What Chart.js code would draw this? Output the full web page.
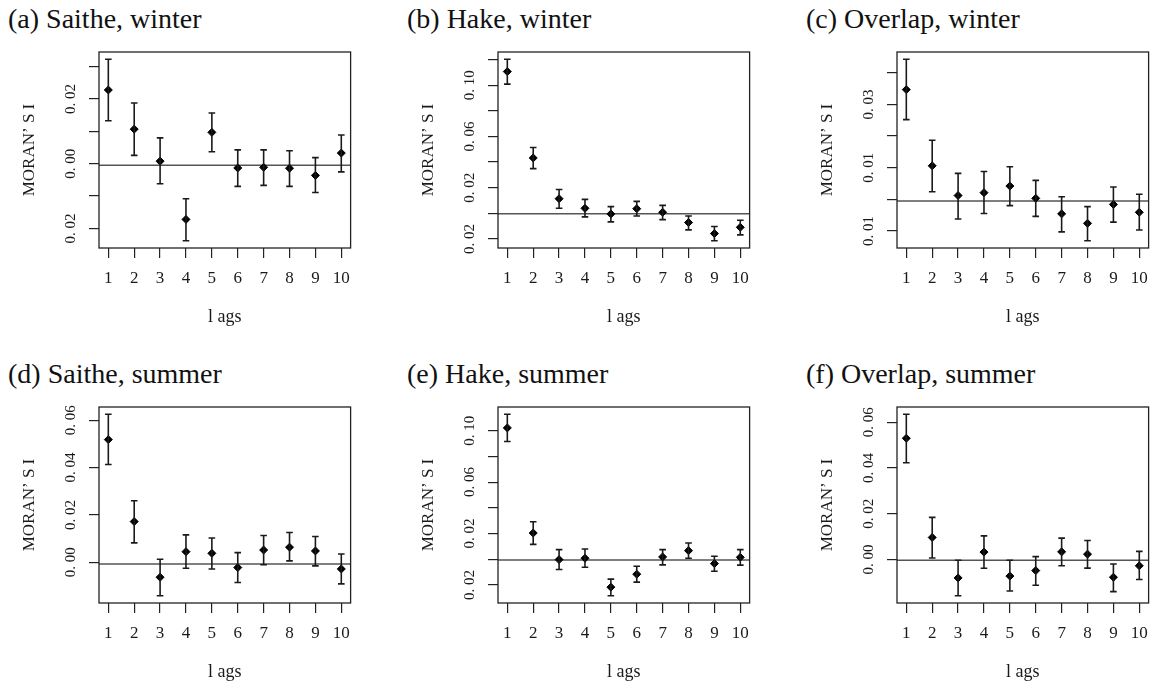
<!DOCTYPE html>
<html>
<head>
<meta charset="utf-8">
<script src="https://cdn.jsdelivr.net/npm/chart.js@4"></script>
<style>
  html, body { margin: 0; padding: 0; background: #fff; overflow: hidden; }
  body { width: 1158px; height: 686px; position: relative; }
  .panel-title { position: absolute; font-family: "Liberation Serif", serif; font-size: 28px; line-height: 28px; color: #111; white-space: nowrap; }
  canvas { position: absolute; }
</style>
</head>
<body>
<script>
// lags on the x axis
const lags = [1, 2, 3, 4, 5, 6, 7, 8, 9, 10];

// (a) saithe, winter
const saitheWinterI  = [0.0228, 0.0107, 0.0008, -0.0172, 0.0097, -0.0013, -0.0011, -0.0014, -0.0036, 0.0033];
const saitheWinterLo = [0.0133, 0.0026, -0.0062, -0.0238, 0.0037, -0.0070, -0.0067, -0.0070, -0.0089, -0.0025];
const saitheWinterHi = [0.0323, 0.0188, 0.0080, -0.0108, 0.0157, 0.0043, 0.0043, 0.0040, 0.0019, 0.0089];

// (b) hake, winter
const hakeWinterI  = [0.1106, 0.0432, 0.0114, 0.0039, -0.0005, 0.0036, 0.0008, -0.0072, -0.0158, -0.0109];
const hakeWinterLo = [0.1008, 0.0349, 0.0039, -0.0028, -0.0067, -0.0021, -0.0049, -0.0129, -0.0214, -0.0168];
const hakeWinterHi = [0.1202, 0.0514, 0.0186, 0.0109, 0.0052, 0.0093, 0.0062, -0.0021, -0.0103, -0.0054];

// (c) overlap, winter
const overlapWinterI  = [0.0347, 0.0106, 0.0012, 0.0021, 0.0042, 0.0003, -0.0046, -0.0076, -0.0016, -0.0041];
const overlapWinterLo = [0.0252, 0.0024, -0.0062, -0.0045, -0.0020, -0.0054, -0.0103, -0.0131, -0.0072, -0.0097];
const overlapWinterHi = [0.0443, 0.0187, 0.0082, 0.0088, 0.0103, 0.0060, 0.0008, -0.0023, 0.0039, 0.0016];

// (d) saithe, summer
const saitheSummerI  = [0.0518, 0.0172, -0.0063, 0.0045, 0.0038, -0.0022, 0.0052, 0.0064, 0.0048, -0.0028];
const saitheSummerLo = [0.0413, 0.0082, -0.0141, -0.0025, -0.0028, -0.0085, -0.0010, 0.0006, -0.0015, -0.0091];
const saitheSummerHi = [0.0625, 0.0260, 0.0013, 0.0116, 0.0103, 0.0041, 0.0113, 0.0126, 0.0109, 0.0035];

// (e) hake, summer
const hakeSummerI  = [0.1022, 0.0204, -0.0003, 0.0008, -0.0217, -0.0116, 0.0018, 0.0067, -0.0034, 0.0015];
const hakeSummerLo = [0.0916, 0.0116, -0.0080, -0.0062, -0.0284, -0.0178, -0.0044, 0.0008, -0.0093, -0.0046];
const hakeSummerHi = [0.1128, 0.0292, 0.0075, 0.0080, -0.0155, -0.0054, 0.0075, 0.0126, 0.0023, 0.0075];

// (f) overlap, summer
const overlapSummerI  = [0.0530, 0.0096, -0.0081, 0.0032, -0.0073, -0.0049, 0.0033, 0.0023, -0.0078, -0.0028];
const overlapSummerLo = [0.0423, 0.0006, -0.0159, -0.0039, -0.0138, -0.0113, -0.0028, -0.0038, -0.0141, -0.0088];
const overlapSummerHi = [0.0635, 0.0184, -0.0004, 0.0103, -0.0004, 0.0012, 0.0093, 0.0083, -0.0020, 0.0035];

// expected value lines
const expectedI = [-0.0005, -0.0003, -0.0005, -0.0007, -0.0005, -0.0004];

// y tick values and the labels as printed
const ticksSaitheWinter  = [-0.02, -0.01, 0.00, 0.01, 0.02, 0.03];
const labelsSaitheWinter = ["0. 02", "", "0. 00", "", "0. 02", ""];
const ticksHake  = [-0.02, 0.00, 0.02, 0.04, 0.06, 0.08, 0.10, 0.12];
const labelsHake = ["0. 02", "", "0. 02", "", "0. 06", "", "0. 10", ""];
const ticksOverlapWinter  = [-0.01, 0.00, 0.01, 0.02, 0.03, 0.04];
const labelsOverlapWinter = ["0. 01", "", "0. 01", "", "0. 03", ""];
const ticksSummer  = [0.00, 0.02, 0.04, 0.06];
const labelsSummer = ["0. 00", "0. 02", "0. 04", "0. 06"];

const panelTitles = ["(a) Saithe, winter", "(b) Hake, winter", "(c) Overlap, winter",
                     "(d) Saithe, summer", "(e) Hake, summer", "(f) Overlap, summer"];

const serif = "'Liberation Serif', 'Times New Roman', serif";
const ink = '#1a1a1a';

// reference line + box like R's plot()
const rBoxPlugin = {
  id: 'rbox',
  beforeDatasetsDraw(chart, args, opts) {
    const { ctx, chartArea: a } = chart;
    const py = chart.scales.y.getPixelForValue(opts.ref);
    ctx.save();
    ctx.strokeStyle = '#555';
    ctx.lineWidth = 1.5;
    ctx.beginPath();
    ctx.moveTo(a.left, py);
    ctx.lineTo(a.right, py);
    ctx.stroke();
    ctx.restore();
  },
  afterDraw(chart) {
    const { ctx, chartArea: a } = chart;
    ctx.save();
    ctx.strokeStyle = '#222';
    ctx.lineWidth = 1.3;
    ctx.strokeRect(a.left, a.top, a.right - a.left, a.bottom - a.top);
    ctx.restore();
  }
};

const makePanel = (p) => {
  const canvas = document.createElement('canvas');
  canvas.width = 360;
  canvas.height = 288;
  canvas.style.left = p.left + 'px';
  canvas.style.top = p.top + 'px';
  document.body.appendChild(canvas);

  const title = document.createElement('div');
  title.className = 'panel-title';
  title.textContent = p.title;
  title.style.left = (p.left + 8) + 'px';
  title.style.top = (p.top - 35) + 'px';
  document.body.appendChild(title);

  const bars = [], caps = [], pts = [];
  lags.forEach((lag, i) => {
    bars.push({ x: lag, y: p.lo[i] }, { x: lag, y: p.hi[i] }, { x: lag, y: null });
    caps.push({ x: lag, y: p.lo[i] }, { x: lag, y: p.hi[i] });
    pts.push({ x: lag, y: p.I[i] });
  });

  // R style 4% axis extension
  const yMin = Math.min(...p.lo), yMax = Math.max(...p.hi);
  const yPad = (yMax - yMin) * 0.04;
  const xPad = (lags[lags.length - 1] - lags[0]) * 0.04;

  const gridOpts = { drawOnChartArea: false, drawTicks: true, tickLength: 10, color: '#222', lineWidth: 1.2 };

  new Chart(canvas, {
    type: 'scatter',
    data: {
      datasets: [
        { type: 'line', data: bars, showLine: true, spanGaps: false, borderColor: ink, borderWidth: 1.6, pointRadius: 0, fill: false },
        { data: caps, pointStyle: 'line', pointRadius: 3.3, borderColor: ink, borderWidth: 1.6, pointBorderColor: ink, pointBorderWidth: 1.6 },
        { data: pts, pointStyle: 'rectRot', pointRadius: 4, backgroundColor: '#000', borderColor: '#000', borderWidth: 1,
          pointBackgroundColor: '#000', pointBorderColor: '#000' }
      ]
    },
    options: {
      responsive: false,
      animation: false,
      events: [],
      layout: { padding: { top: 12, right: 5, bottom: 0, left: 0 } },
      plugins: {
        legend: { display: false },
        tooltip: { enabled: false },
        rbox: { ref: p.ref }
      },
      scales: {
        x: {
          type: 'linear',
          min: lags[0] - xPad,
          max: lags[lags.length - 1] + xPad,
          afterBuildTicks: (s) => { s.ticks = lags.map(v => ({ value: v })); },
          afterFit: (s) => { s.height = 80; },
          ticks: { autoSkip: false, maxRotation: 0, minRotation: 0, padding: 10, color: ink,
                   font: { family: serif, size: 17 }, callback: (v, i) => String(lags[i]) },
          grid: gridOpts,
          border: { display: false },
          title: { display: true, text: 'l ags', color: ink, font: { family: serif, size: 18 }, padding: { top: 0, bottom: 0 } }
        },
        y: {
          type: 'linear',
          min: yMin - yPad,
          max: yMax + yPad,
          afterBuildTicks: (s) => { s.ticks = p.yTicks.map(v => ({ value: v })); },
          afterFit: (s) => { s.width = 99; },
          ticks: { autoSkip: false, minRotation: 90, maxRotation: 90, crossAlign: 'center', padding: 3, color: ink,
                   font: { family: serif, size: 15 }, callback: (v, i) => p.yLabels[i] },
          grid: gridOpts,
          border: { display: false },
          title: { display: true, text: 'MORAN\u2019 S I', color: ink, font: { family: serif, size: 17 }, padding: { top: 19, bottom: 0 } }
        }
      }
    },
    plugins: [rBoxPlugin]
  });
};

const colLeft = [0, 399, 798];
const rowTop = [40, 395];

[
  { I: saitheWinterI,  lo: saitheWinterLo,  hi: saitheWinterHi,  yTicks: ticksSaitheWinter,  yLabels: labelsSaitheWinter },
  { I: hakeWinterI,    lo: hakeWinterLo,    hi: hakeWinterHi,    yTicks: ticksHake,          yLabels: labelsHake },
  { I: overlapWinterI, lo: overlapWinterLo, hi: overlapWinterHi, yTicks: ticksOverlapWinter, yLabels: labelsOverlapWinter },
  { I: saitheSummerI,  lo: saitheSummerLo,  hi: saitheSummerHi,  yTicks: ticksSummer,        yLabels: labelsSummer },
  { I: hakeSummerI,    lo: hakeSummerLo,    hi: hakeSummerHi,    yTicks: ticksHake.slice(0, 7), yLabels: labelsHake.slice(0, 7) },
  { I: overlapSummerI, lo: overlapSummerLo, hi: overlapSummerHi, yTicks: ticksSummer,        yLabels: labelsSummer }
].forEach((p, k) => {
  p.title = panelTitles[k];
  p.ref = expectedI[k];
  p.left = colLeft[k % 3];
  p.top = rowTop[Math.floor(k / 3)];
  makePanel(p);
});
</script>
</body>
</html>
